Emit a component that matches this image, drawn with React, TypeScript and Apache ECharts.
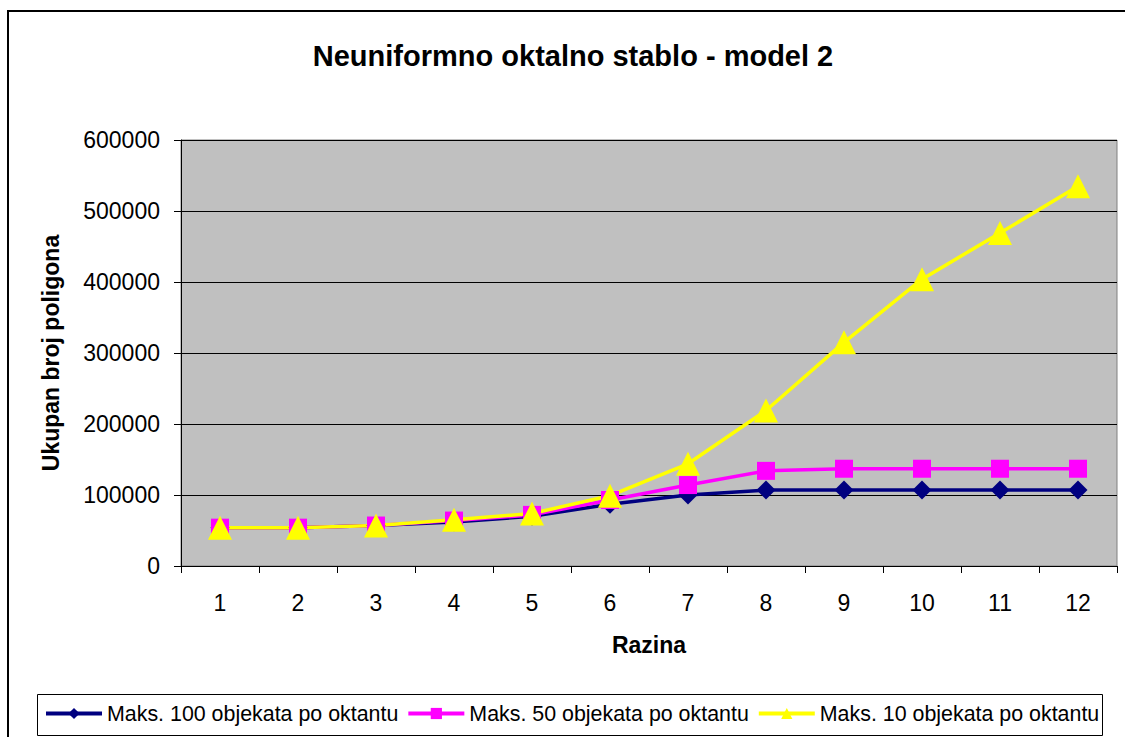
import React, { useEffect, useRef } from "react";
import * as echarts from "echarts";

const categories = ["1", "2", "3", "4", "5", "6", "7", "8", "9", "10", "11", "12"];
const seriesNames = [
  "Maks. 100 objekata po oktantu",
  "Maks. 50 objekata po oktantu",
  "Maks. 10 objekata po oktantu",
];
const max100 = [54000, 54000, 57000, 62000, 70000, 87000, 100000, 107000, 107000, 107000, 107000, 107000];
const max50 = [54000, 54000, 57000, 64000, 72000, 93000, 114000, 134000, 137000, 137000, 137000, 137000];
const max10 = [54000, 54000, 57000, 65000, 74000, 99000, 144000, 219000, 315000, 404000, 469000, 535000];
const titleText = "Neuniformno oktalno stablo - model 2";
const xName = "Razina";
const yName = "Ukupan broj poligona";

const FONT = "'Liberation Sans', Arial, sans-serif";

export default function App() {
  const ref = useRef<HTMLDivElement>(null);
  useEffect(() => {
    if (!ref.current) return;
    const chart = echarts.init(ref.current, undefined, { renderer: "svg" });
    const mk = (name: string, data: number[], color: string, symbol: string, size: number) => ({
      name,
      type: "line",
      data,
      symbol,
      symbolSize: size,
      lineStyle: { color, width: 3.5 },
      itemStyle: { color, borderWidth: 0 },
      emphasis: { disabled: true },
    });
    chart.setOption({
      animation: false,
      backgroundColor: "#ffffff",
      textStyle: { fontFamily: FONT },
      graphic: [
        {
          type: "polyline",
          shape: { points: [[8, 800], [8, 11], [1300, 11]] },
          style: { fill: null, stroke: "#000", lineWidth: 2 },
          silent: true,
        },
        {
          type: "rect",
          shape: { x: 37.5, y: 694.5, width: 1065, height: 41 },
          style: { fill: "transparent", stroke: "#000", lineWidth: 1 },
          silent: true,
        },
        {
          type: "text",
          x: 573,
          y: 56,
          style: {
            text: titleText,
            fontFamily: FONT,
            fontSize: 29,
            fontWeight: "bold",
            fill: "#000",
            align: "center",
            verticalAlign: "middle",
          },
          silent: true,
        },
      ],
      legend: {
        left: 44,
        top: 703,
        padding: 0,
        itemGap: 8,
        itemWidth: 56,
        itemHeight: 14,
        lineStyle: { width: 4 },
        textStyle: { fontFamily: FONT, fontSize: 21.4, color: "#000" },
        data: seriesNames,
      },
      grid: {
        left: 181,
        right: 8,
        top: 140,
        bottom: 171,
        show: true,
        backgroundColor: "#C0C0C0",
        borderColor: "#808080",
        borderWidth: 1,
      },
      xAxis: {
        type: "category",
        data: categories,
        boundaryGap: true,
        name: xName,
        nameLocation: "middle",
        nameGap: 67,
        nameTextStyle: { fontFamily: FONT, fontSize: 23, fontWeight: "bold", color: "#000" },
        axisLine: { show: true, lineStyle: { color: "#000", width: 1 } },
        axisTick: { show: true, length: 7, lineStyle: { color: "#000" } },
        axisLabel: { fontFamily: FONT, fontSize: 23, color: "#000", margin: 25 },
        splitLine: { show: false },
      },
      yAxis: {
        type: "value",
        min: 0,
        max: 600000,
        interval: 100000,
        name: yName,
        nameLocation: "middle",
        nameGap: 119,
        nameTextStyle: { fontFamily: FONT, fontSize: 23, fontWeight: "bold", color: "#000" },
        axisLine: { show: true, lineStyle: { color: "#000", width: 1 } },
        axisTick: { show: true, length: 7, lineStyle: { color: "#000" } },
        axisLabel: {
          fontFamily: FONT,
          fontSize: 23,
          color: "#000",
          margin: 21,
          formatter: (v: number) => String(v),
        },
        splitLine: { show: true, lineStyle: { color: "#000", width: 1 } },
      },
      series: [
        mk(seriesNames[0], max100, "#000080", "diamond", 19),
        mk(seriesNames[1], max50, "#FF00FF", "rect", 18),
        mk(seriesNames[2], max10, "#FFFF00", "triangle", 24),
      ],
    });
    return () => chart.dispose();
  }, []);
  return (
    <div
      ref={ref}
      style={{ position: "absolute", left: 0, top: 0, width: 1125, height: 737 }}
    />
  );
}
